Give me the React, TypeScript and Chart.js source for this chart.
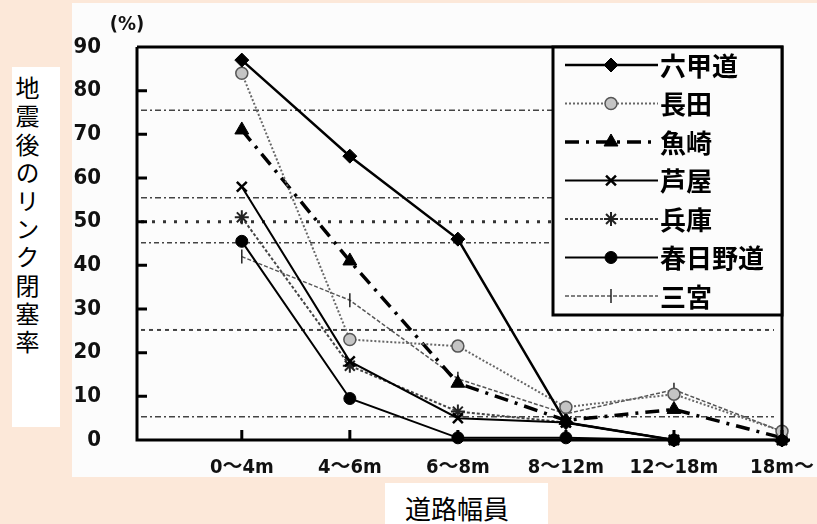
import React, { useEffect, useRef } from 'react';
import { Chart, registerables } from 'chart.js';
import { drawPoint } from 'chart.js/helpers';

Chart.register(...registerables);

// ---------- data ----------
const categories = ['0～4m', '4～6m', '6～8m', '8～12m', '12～18m', '18m～'];
const seriesNames = ['六甲道', '長田', '魚崎', '芦屋', '兵庫', '春日野道', '三宮'];
const rokkomichi = [87, 65, 46, 4, 0, 0];
const nagata = [84, 23, 21.5, 7.5, 10.5, 2];
const uozaki = [71, 41, 13, 4.5, 7, 0.5];
const ashiya = [58, 18, 5, 4, 0, 0];
const hyogo = [51, 17, 6.5, 4, 0, 0];
const kasuganomichi = [45.5, 9.5, 0.5, 0.5, 0, 0];
const sannomiya = [42, 32, 14, 6, 11.5, 2];
const yTicks = [0, 10, 20, 30, 40, 50, 60, 70, 80, 90];
const refLines = [75.5, 55.5, 50, 45.2, 25.2, 5.3];
const yUnit = '(%)';
const xTitle = '道路幅員';
const yTitle = '地震後のリンク閉塞率';

const seriesValues = [rokkomichi, nagata, uozaki, ashiya, hyogo, kasuganomichi, sannomiya];

// ---------- styles ----------
const styles = [
  { color: '#000', width: 2.5, dash: [] as number[], point: 'rectRot', radius: 7, fill: '#000', pborder: '#000', pbw: 1, rotation: 0 },
  { color: '#666', width: 2, dash: [2, 2], point: 'circle', radius: 6, fill: '#c4c4c4', pborder: '#555', pbw: 1.5, rotation: 0 },
  { color: '#000', width: 3.5, dash: [14, 7, 3, 7], point: 'triangle', radius: 8, fill: '#000', pborder: '#000', pbw: 1, rotation: 0 },
  { color: '#000', width: 2, dash: [] as number[], point: 'crossRot', radius: 7, fill: '#000', pborder: '#000', pbw: 2.5, rotation: 0 },
  { color: '#444', width: 2, dash: [3, 2], point: 'star', radius: 7, fill: '#000', pborder: '#222', pbw: 2, rotation: 0 },
  { color: '#000', width: 2, dash: [] as number[], point: 'circle', radius: 6, fill: '#000', pborder: '#000', pbw: 1, rotation: 0 },
  { color: '#555', width: 1.5, dash: [4, 2], point: 'line', radius: 7, fill: '#000', pborder: '#222', pbw: 1.5, rotation: 90 },
];

const refStyles = [
  { dash: [6, 3, 2, 3], w: 1.5, c: '#444' },
  { dash: [6, 3, 2, 3], w: 1.5, c: '#444' },
  { dash: [3, 8], w: 3, c: '#333' },
  { dash: [5, 3, 2, 3], w: 1.5, c: '#444' },
  { dash: [4, 4], w: 2, c: '#444' },
  { dash: [6, 3, 2, 3], w: 1.5, c: '#444' },
];

const numFont = "'DejaVu Sans Condensed', 'Liberation Sans Narrow', 'Noto Sans CJK JP', sans-serif";
const jpFont = "'Noto Sans CJK JP', sans-serif";

const zeroPad = (s: any) => {
  s.paddingTop = 0;
  s.paddingBottom = 0;
  s.paddingLeft = 0;
  s.paddingRight = 0;
};

const decorPlugin = {
  id: 'decor',
  beforeDatasetsDraw(chart: any) {
    const { ctx, chartArea: a, scales } = chart;
    const y = scales.y;
    ctx.save();
    refLines.forEach((v, i) => {
      const st = refStyles[i];
      const py = y.getPixelForValue(v);
      ctx.beginPath();
      ctx.setLineDash(st.dash);
      ctx.lineWidth = st.w;
      ctx.strokeStyle = st.c;
      ctx.moveTo(a.left + 4, py);
      ctx.lineTo(a.right - 8, py);
      ctx.stroke();
    });
    ctx.restore();
  },
  afterDatasetsDraw(chart: any) {
    const { ctx, chartArea: a, scales } = chart;
    const x = scales.x;
    const y = scales.y;
    ctx.save();
    ctx.setLineDash([]);
    ctx.strokeStyle = '#000';
    ctx.lineWidth = 3;
    // frame
    ctx.beginPath();
    ctx.moveTo(a.left, a.top);
    ctx.lineTo(a.left, a.bottom);
    ctx.lineTo(a.right + 8, a.bottom);
    ctx.moveTo(a.left, a.top);
    ctx.lineTo(a.right, a.top);
    ctx.lineTo(a.right, a.bottom - 6);
    ctx.stroke();
    // inward ticks
    ctx.beginPath();
    yTicks.forEach((v) => {
      if (v === 0 || v === 90) return;
      const py = y.getPixelForValue(v);
      ctx.moveTo(a.left, py);
      ctx.lineTo(a.left + 10, py);
    });
    categories.forEach((_, i) => {
      const px = x.getPixelForValue(i);
      ctx.moveTo(px, a.bottom);
      ctx.lineTo(px, a.bottom - 10);
    });
    ctx.stroke();

    // unit label
    ctx.fillStyle = '#111';
    ctx.font = `bold 20px ${numFont}`;
    ctx.textAlign = 'center';
    ctx.textBaseline = 'middle';
    ctx.fillText(yUnit, a.left - 10, a.top - 22);

    // legend
    const lw = 229;
    const lh = 268;
    const lx = a.right - lw;
    const ly = a.top;
    ctx.fillStyle = '#fcfcfc';
    ctx.fillRect(lx, ly, lw, lh);
    ctx.lineWidth = 3;
    ctx.strokeStyle = '#000';
    ctx.strokeRect(lx, ly, lw, lh);
    seriesNames.forEach((name, i) => {
      const st = styles[i];
      const ry = ly + 18 + i * 38.5;
      ctx.beginPath();
      ctx.setLineDash(st.dash);
      ctx.lineWidth = st.width;
      ctx.strokeStyle = st.color;
      ctx.moveTo(lx + 12, ry);
      ctx.lineTo(lx + 105, ry);
      ctx.stroke();
      ctx.setLineDash([]);
      ctx.fillStyle = st.fill;
      ctx.strokeStyle = st.pborder;
      ctx.lineWidth = st.pbw;
      drawPoint(ctx, { pointStyle: st.point as any, radius: st.radius, rotation: st.rotation, borderWidth: st.pbw } as any, lx + 58, ry);
      ctx.fillStyle = '#000';
      ctx.font = `bold 26px ${jpFont}`;
      ctx.textAlign = 'left';
      ctx.textBaseline = 'middle';
      ctx.fillText(name, lx + 107, ry + 1);
    });
    ctx.restore();
  },
};

export default function App() {
  const ref = useRef<HTMLCanvasElement>(null);
  useEffect(() => {
    document.body.style.margin = '0';
    const canvas = ref.current;
    if (!canvas) return;
    const datasets = seriesNames.map((name, i) => {
      const st = styles[i];
      return {
        label: name,
        data: seriesValues[i].map((v, j) => ({ x: j, y: v })),
        borderColor: st.color,
        borderWidth: st.width,
        borderDash: st.dash,
        backgroundColor: st.fill,
        pointStyle: st.point as any,
        pointRadius: st.radius,
        pointRotation: st.rotation,
        pointBackgroundColor: st.fill,
        pointBorderColor: st.pborder,
        pointBorderWidth: st.pbw,
        tension: 0,
        fill: false,
        showLine: true,
        clip: false as any,
      };
    });
    const chart = new Chart(canvas, {
      type: 'line',
      data: { datasets },
      options: {
        animation: false,
        responsive: false,
        events: [],
        layout: { padding: { top: 44, right: 35, bottom: 0, left: 0 } },
        plugins: { legend: { display: false }, tooltip: { enabled: false } },
        scales: {
          x: {
            type: 'linear',
            min: -0.97,
            max: 5,
            afterBuildTicks: (s: any) => {
              s.ticks = categories.map((_, i) => ({ value: i }));
            },
            afterFit: (s: any) => {
              s.height = 37;
              zeroPad(s);
            },
            ticks: {
              autoSkip: false,
              maxRotation: 0,
              padding: 16,
              color: '#111',
              font: { family: numFont, size: 20, weight: 'bold' },
              callback: (v: any) => categories[v] ?? '',
            },
            grid: { display: false, drawTicks: false },
            border: { display: false },
          },
          y: {
            min: 0,
            max: 90,
            afterBuildTicks: (s: any) => {
              s.ticks = yTicks.map((v) => ({ value: v }));
            },
            afterFit: (s: any) => {
              s.width = 65;
              zeroPad(s);
            },
            ticks: {
              padding: 36,
              color: '#111',
              font: { family: numFont, size: 22, weight: 'bold' },
            },
            grid: { display: false, drawTicks: false },
            border: { display: false },
          },
        },
      },
      plugins: [decorPlugin],
    });
    return () => chart.destroy();
  }, []);

  return (
    <div style={{ position: 'relative', width: 817, height: 524, background: '#fce8d9', overflow: 'hidden' }}>
      <div style={{ position: 'absolute', left: 72, top: 3, width: 745, height: 474, background: '#fcfcfc' }}>
        <canvas ref={ref} width={745} height={474} style={{ display: 'block' }} />
      </div>
      <div style={{ position: 'absolute', left: 12, top: 67, width: 48, height: 360, background: '#fff' }}>
        <div
          style={{
            position: 'absolute',
            left: 3,
            top: 9,
            writingMode: 'vertical-rl',
            fontFamily: jpFont,
            fontSize: 24,
            lineHeight: '25px',
            letterSpacing: '4.2px',
            color: '#000',
          }}
        >
          {yTitle}
        </div>
      </div>
      <div style={{ position: 'absolute', left: 385, top: 483, width: 163, height: 50, background: '#fff' }}>
        <div
          style={{
            position: 'absolute',
            left: 20,
            top: 11,
            fontFamily: jpFont,
            fontSize: 26,
            lineHeight: '28px',
            color: '#000',
            whiteSpace: 'nowrap',
          }}
        >
          {xTitle}
        </div>
      </div>
    </div>
  );
}
